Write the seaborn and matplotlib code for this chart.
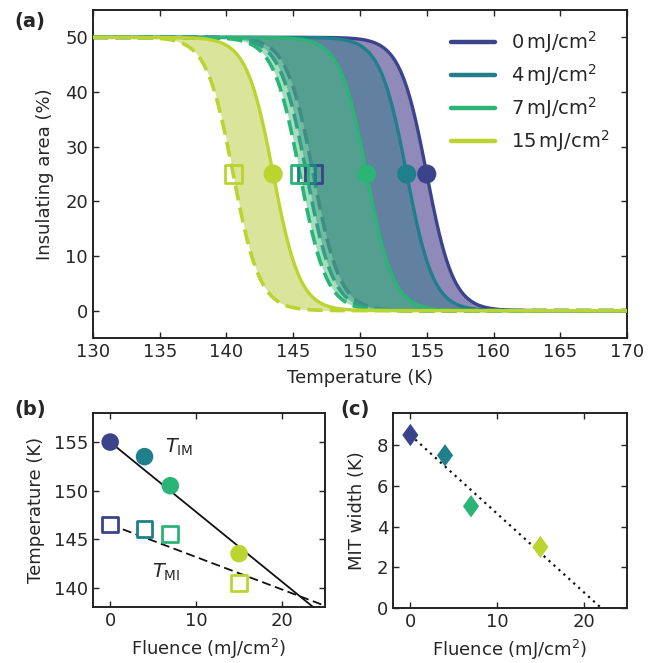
import numpy as np
import pandas as pd
import matplotlib
matplotlib.use("Agg")
import matplotlib.pyplot as plt
import seaborn as sns

# values
fluence = [0, 4, 7, 15]
fluence_labels = ["0$\\,$mJ/cm$^2$", "4$\\,$mJ/cm$^2$", "7$\\,$mJ/cm$^2$", "15$\\,$mJ/cm$^2$"]
t_im = [155.0, 153.5, 150.5, 143.5]   # heating (solid, circles)
t_mi = [146.5, 146.0, 145.5, 140.5]   # cooling (dashed, squares)
mit_width = [8.5, 7.5, 5.0, 3.0]
trans_width = [1.0, 1.0, 1.0, 1.0]    # width of the fitted transition curves (K)

# linear fits drawn in (b) and (c): (intercept, slope)
fit_im = (155.0, -0.72)
fit_mi = (146.5, -0.335)
fit_width = (8.5, -0.386)

colors = ["#3b448b", "#1f7f8b", "#2bb475", "#bcd430"]
fill_colors = ["#221675", "#357786", "#48be81", "#b7cb39"]

sns.set_theme(style="ticks")
plt.rcParams["font.family"] = ["DejaVu Sans"]
plt.rcParams.update({
    "xtick.direction": "in", "ytick.direction": "in",
    "xtick.top": True, "ytick.right": True,
    "xtick.major.size": 4.5, "ytick.major.size": 4.5,
    "xtick.major.width": 1.0, "ytick.major.width": 1.0,
    "axes.linewidth": 1.4, "axes.edgecolor": "#222222",
    "font.size": 13, "axes.labelsize": 13,
    "xtick.labelsize": 13, "ytick.labelsize": 13,
    "mathtext.default": "regular",
})

fig = plt.figure(figsize=(6.58, 6.63), dpi=100)
ax_a = fig.add_axes([0.1413, 0.4902, 0.8116, 0.4947])
ax_b = fig.add_axes([0.1413, 0.0845, 0.3526, 0.2926])
ax_c = fig.add_axes([0.5973, 0.0830, 0.3556, 0.2946])

def transition(T, tc, w):
    return 50.0 / (1.0 + np.exp((T - tc) / w))

T = np.linspace(130, 170, 600)

# (a) each fluence: shaded hysteresis, cooling (dashed) and heating (solid) branch
for i, (lab, up, dn, w) in enumerate(zip(fluence_labels, t_im, t_mi, trans_width)):
    df = pd.DataFrame({"T": T, "heat": transition(T, up, w), "cool": transition(T, dn, w)})
    z = 1 + 3 * i
    ax_a.fill_between(df["T"], df["cool"], df["heat"], color=fill_colors[i],
                      alpha=0.5, lw=0, zorder=z)
    sns.lineplot(data=df, x="T", y="cool", color=colors[i], lw=2.6, ax=ax_a, zorder=z + 1)
    ax_a.get_lines()[-1].set_dashes([4.2, 2.0])
    sns.lineplot(data=df, x="T", y="heat", color=colors[i], lw=2.4, ax=ax_a, zorder=z + 2)

mid = [25] * len(fluence)
ax_a.scatter(t_mi, mid, marker="s", s=150, facecolors="none", edgecolors=colors,
             linewidths=2, zorder=20)
ax_a.scatter(t_im, mid, c=colors, s=190, marker="o", lw=0, zorder=21)

handles = [plt.Line2D([], [], color=c, lw=3.2) for c in colors]
ax_a.legend(handles, fluence_labels, loc="upper right", frameon=False,
            handlelength=2.3, labelspacing=0.36, fontsize=14,
            bbox_to_anchor=(1.0, 0.995), borderaxespad=0.5, handletextpad=0.8)

ax_a.set_xlim(130, 170)
ax_a.set_ylim(-5, 55)
ax_a.set_xticks(np.arange(130, 171, 5))
ax_a.set_yticks(np.arange(0, 51, 10))
ax_a.set_xlabel("Temperature (K)", labelpad=6)
ax_a.set_ylabel("Insulating area (%)", labelpad=8)

# (b) transition temperatures vs fluence
xf = np.array([0, 25])
ax_b.plot(xf, fit_im[0] + fit_im[1] * xf, color="#111111", lw=1.3, zorder=1)
ax_b.plot(xf, fit_mi[0] + fit_mi[1] * xf, color="#111111", lw=1.3, ls=(0, (5, 2.5)), zorder=1)
pal = dict(zip(fluence_labels, colors))
pts = pd.DataFrame({"fluence": fluence, "t_im": t_im, "t_mi": t_mi, "lab": fluence_labels})
sns.scatterplot(data=pts, x="fluence", y="t_im", hue="lab", palette=pal, s=160,
                lw=0, ax=ax_b, legend=False, zorder=3)
ax_b.scatter(pts["fluence"], pts["t_mi"], marker="s", s=130, facecolors="white",
             edgecolors=colors, linewidths=2, zorder=3)
ax_b.text(6.4, 154.45, "$\\mathit{T}_{\\rm IM}$", fontsize=14, va="center")
ax_b.text(4.9, 141.6, "$\\mathit{T}_{\\rm MI}$", fontsize=14, va="center")
ax_b.set_xlim(-2, 25)
ax_b.set_ylim(138, 158)
ax_b.set_xticks([0, 10, 20])
ax_b.set_yticks([140, 145, 150, 155])
ax_b.set_xlabel("Fluence (mJ/cm$^2$)", labelpad=5)
ax_b.set_ylabel("Temperature (K)", labelpad=6)

# (c) MIT width vs fluence
ax_c.plot(xf, fit_width[0] + fit_width[1] * xf, color="#111111", lw=1.6, ls=(0, (1, 2)), zorder=1)
pts_c = pd.DataFrame({"fluence": fluence, "width": mit_width, "lab": fluence_labels})
diamond = [(0, 1), (0.72, 0), (0, -1), (-0.72, 0), (0, 1)]
sns.scatterplot(data=pts_c, x="fluence", y="width", hue="lab", palette=pal, s=260,
                marker=diamond, lw=0, ax=ax_c, legend=False, zorder=3)
ax_c.set_xlim(-2, 25)
ax_c.set_ylim(0, 9.6)
ax_c.set_xticks([0, 10, 20])
ax_c.set_yticks([0, 2, 4, 6, 8])
ax_c.set_xlabel("Fluence (mJ/cm$^2$)", labelpad=5)
ax_c.set_ylabel("MIT width (K)", labelpad=8)

fig.text(0.022, 0.968, "(a)", fontsize=14, fontweight="bold", va="center")
fig.text(0.022, 0.382, "(b)", fontsize=14, fontweight="bold", va="center")
fig.text(0.517, 0.382, "(c)", fontsize=14, fontweight="bold", va="center")

fig.savefig("out.png", dpi=100)
